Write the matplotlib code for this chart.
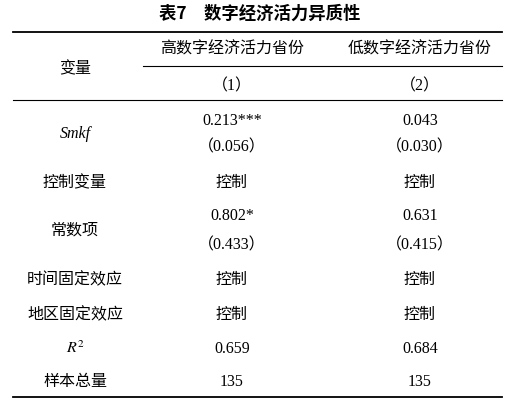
import matplotlib
matplotlib.use("Agg")
import matplotlib.pyplot as plt

plt.rcParams['font.family'] = ['Liberation Serif', 'Noto Sans CJK SC']

title = "表7　数字经济活力异质性"
col_heads = ["高数字经济活力省份", "低数字经济活力省份"]
col_nums = ["（1）", "（2）"]
row_labels = ["Smkf", "控制变量", "常数项", "时间固定效应", "地区固定效应", "R²", "样本总量"]
col1 = [["0.213***", "（0.056）"], ["控制"], ["0.802*", "（0.433）"], ["控制"], ["控制"], ["0.659"], ["135"]]
col2 = [["0.043", "（0.030）"], ["控制"], ["0.631", "（0.415）"], ["控制"], ["控制"], ["0.684"], ["135"]]
row_y = [[121, 147], [183], [216, 245], [280], [315], [349], [382]]

W, H = 521, 406
fig = plt.figure(figsize=(W/100, H/100), dpi=100)
ax = fig.add_axes([0, 0, 1, 1])
ax.set_xlim(0, W); ax.set_ylim(H, 0); ax.axis('off')

fs = 11.5
ax.text(260, 14, title, ha='center', va='center', fontsize=12.5, fontweight='bold',
        family=['Noto Sans CJK SC'])
ax.plot([13, 502], [33, 33], color='black', lw=1.3)
ax.plot([143, 502], [67, 67], color='black', lw=0.8)
ax.plot([13, 502], [101, 101], color='black', lw=0.8)
ax.plot([13, 502], [398, 398], color='black', lw=1.3)

xs = [75, 232, 420]
ax.text(xs[0], 69, "变量", ha='center', va='center', fontsize=fs)
for x, h, n in zip(xs[1:], col_heads, col_nums):
    ax.text(x, 50, h, ha='center', va='center', fontsize=fs)
    ax.text(x, 86, n, ha='center', va='center', fontsize=fs)

for lab, ys, a, b in zip(row_labels, row_y, col1, col2):
    ly = sum(ys)/len(ys)
    if lab == "Smkf":
        ax.text(xs[0], ly, lab, ha='center', va='center', fontsize=fs, style='italic')
    elif lab == "R²":
        ax.text(xs[0], ly, "$R^2$", ha='center', va='center', fontsize=fs,
                math_fontfamily='stix')
    else:
        ax.text(xs[0], ly, lab, ha='center', va='center', fontsize=fs)
    for y, t in zip(ys, a):
        ax.text(xs[1], y, t, ha='center', va='center', fontsize=fs)
    for y, t in zip(ys, b):
        ax.text(xs[2], y, t, ha='center', va='center', fontsize=fs)

fig.savefig("out.png", dpi=100, facecolor='white')
